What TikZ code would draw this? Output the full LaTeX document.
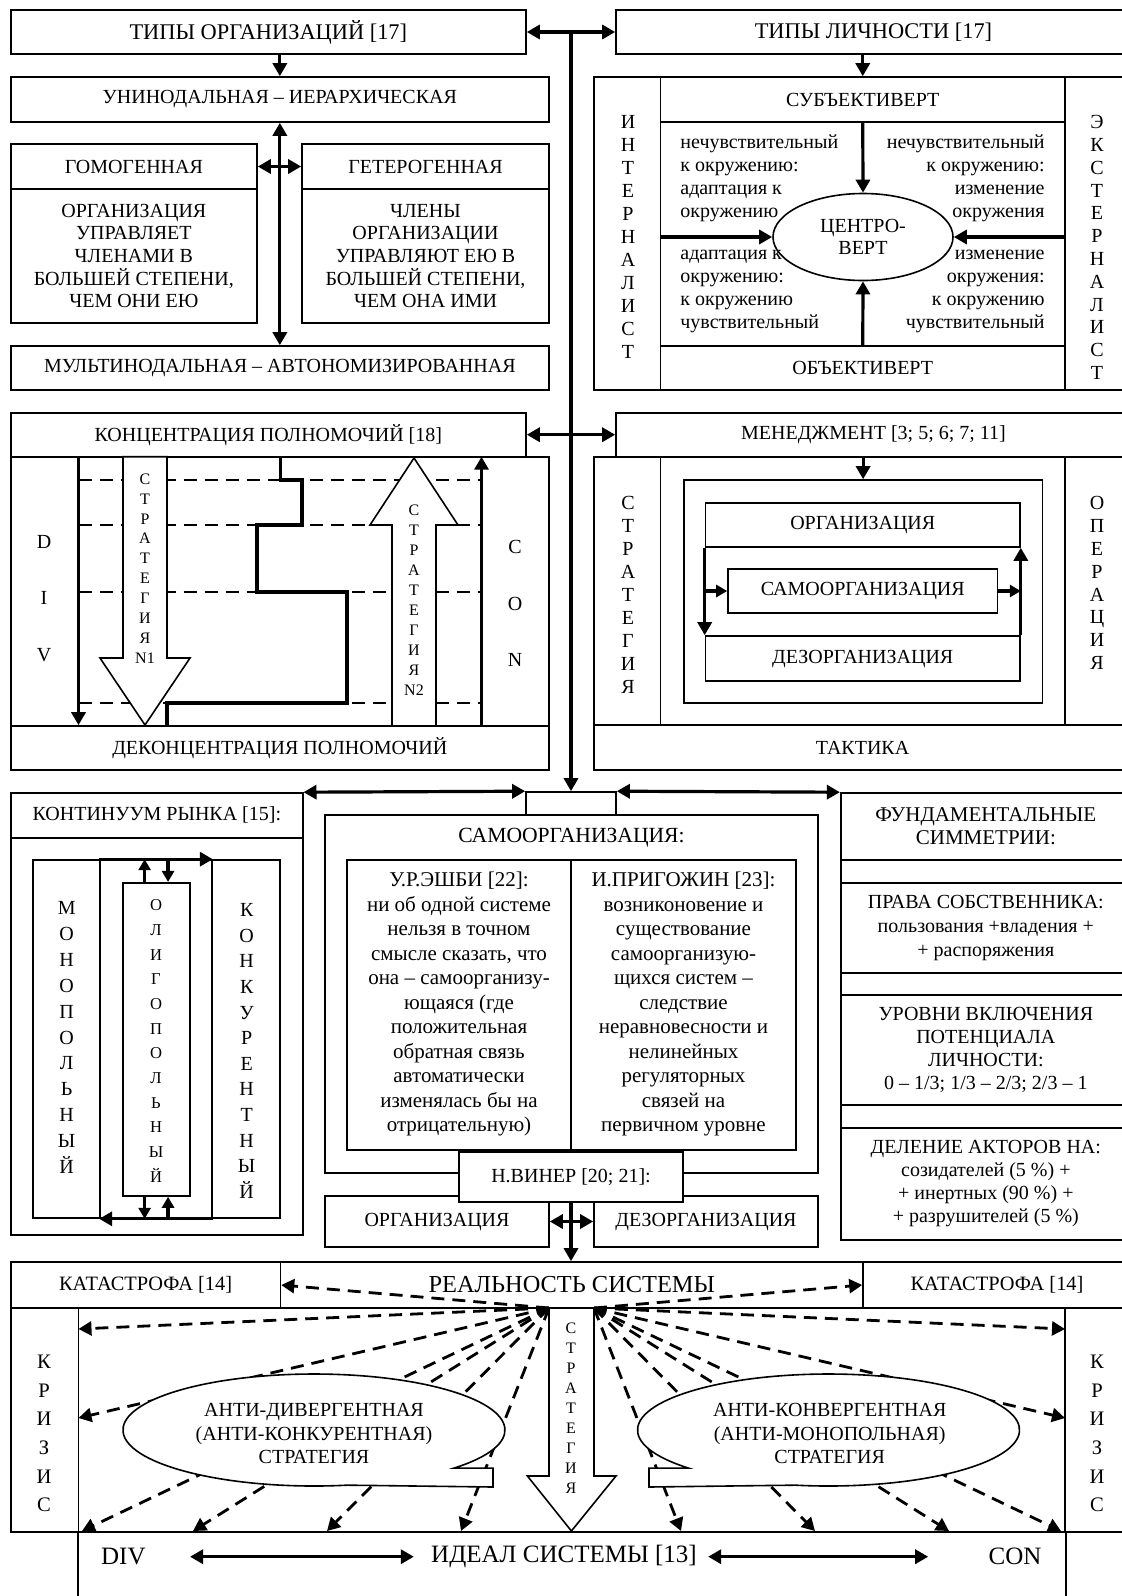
\documentclass[tikz,border=0pt]{standalone}
\usepackage{fontspec}
\setmainfont{Liberation Serif}
\usetikzlibrary{arrows.meta,calc,shapes.geometric}

\newcommand\fmain{\fontsize{10}{11.35}\selectfont}
\newcommand\fhead{\fontsize{11.2}{13}\selectfont}
\newcommand\fkat{\fontsize{10.2}{12}\selectfont}
\newcommand\fbig{\fontsize{12.2}{14}\selectfont}
\newcommand\fideal{\fontsize{12.5}{14}\selectfont}

\tikzset{
  hd/.tip={Triangle[length=6.5pt,width=7pt]},
  hs/.tip={Triangle[length=5.5pt,width=6pt]},
  bxs/.style={draw, line width=0.8pt, fill=white, inner sep=0pt, align=center, font=\fmain},
  txt/.style={inner sep=0pt, align=center, font=\fmain},
  stk/.style={inner sep=0pt, align=center},
  arr/.style={line width=1.6pt, -hd},
  sarr/.style={line width=1.6pt, -hs},
  dbl/.style={line width=1.6pt, hd-hd},
  dsh/.style={line width=1.4pt, dash pattern=on 6.5pt off 4pt},
  dar/.style={dsh, -hd},
  blk/.style={draw, fill=white, line width=0.8pt, line join=miter},
  cal/.style={draw, fill=white, line width=0.8pt},
  bord/.style={line width=0.8pt},
}

% box node given by its corners (x1,y1) (x2,y2)
\newcommand\boxat[7][]{%
  \pgfmathsetmacro\bxw{(#5-#3)*0.5}%
  \pgfmathsetmacro\bxh{(#6-#4)*0.5}%
  \node[bxs,minimum width=\bxw pt,minimum height=\bxh pt,#1] (#2) at ({(#3+#5)/2},{(#4+#6)/2}) {#7};}

\begin{document}
\begin{tikzpicture}[x=0.5pt,y=-0.5pt]
\useasboundingbox (0,0) rectangle (1122,1596);
\clip (0,0) rectangle (1122,1596);

% ---------- row 1, left: organisation types
\boxat[font=\fhead]{torg}{10.7}{10}{526}{54}{ТИПЫ ОРГАНИЗАЦИЙ [17]}
\boxat{uni}{10.7}{77}{549}{122}{УНИНОДАЛЬНАЯ – ИЕРАРХИЧЕСКАЯ}
\boxat{homh}{10.7}{144}{257}{189}{ГОМОГЕННАЯ}
\boxat{homb}{10.7}{189}{257}{323}{ОРГАНИЗАЦИЯ\\УПРАВЛЯЕТ\\ЧЛЕНАМИ В\\БОЛЬШЕЙ СТЕПЕНИ,\\ЧЕМ ОНИ ЕЮ}
\boxat{heth}{302}{144}{549}{189}{ГЕТЕРОГЕННАЯ}
\boxat{hetb}{302}{189}{549}{323}{ЧЛЕНЫ\\ОРГАНИЗАЦИИ\\УПРАВЛЯЮТ ЕЮ В\\БОЛЬШЕЙ СТЕПЕНИ,\\ЧЕМ ОНА ИМИ}
\boxat{multi}{10.7}{346}{549}{390}{МУЛЬТИНОДАЛЬНАЯ – АВТОНОМИЗИРОВАННАЯ}
\draw[arr] (torg.south -| uni.north) -- (uni.north);
\draw[dbl] (uni.south) -- (multi.north);
\draw[dbl] (homh.east) -- (heth.west);

% ---------- row 1, right: personality types
\boxat[font=\fhead]{tlic}{616}{10}{1131}{54}{ТИПЫ ЛИЧНОСТИ [17]}
\boxat{pers}{594}{77}{1131}{390}{}
\boxat{intc}{594}{77}{660.5}{390}{}
\boxat{extc}{1065}{77}{1131}{390}{}
\boxat{subj}{660.5}{77}{1065}{122}{СУБЪЕКТИВЕРТ}
\boxat{obj}{660.5}{346}{1065}{390}{ОБЪЕКТИВЕРТ}
\node[stk,font={\fontsize{10}{11.5}\selectfont}] (intl) at (628,237) {И\\Н\\Т\\Е\\Р\\Н\\А\\Л\\И\\С\\Т};
\node[stk,font={\fontsize{10}{11.4}\selectfont}] (extl) at (1097,247.5) {Э\\К\\С\\Т\\Е\\Р\\Н\\А\\Л\\И\\С\\Т};
\node[draw, ellipse, line width=0.8pt, minimum width=90pt, minimum height=43.5pt, inner sep=0pt, align=center, font=\fmain] (centr) at (863,237) {ЦЕНТРО-\\ВЕРТ};
\node[txt, anchor=west, align=left, font={\fontsize{10}{11.5}\selectfont}] (q1) at (680,178.5) {нечувствительный\\к окружению:\\адаптация к\\окружению};
\node[txt, anchor=east, align=right, font={\fontsize{10}{11.5}\selectfont}] (q2) at (1045,178.5) {нечувствительный\\к окружению:\\изменение\\окружения};
\node[txt, anchor=west, align=left, font={\fontsize{10}{11.5}\selectfont}] (q3) at (680,291.5) {адаптация к\\окружению:\\к окружению\\чувствительный};
\node[txt, anchor=east, align=right, font={\fontsize{10}{11.5}\selectfont}] (q4) at (1045,291.5) {изменение\\окружения:\\к окружению\\чувствительный};
\draw[arr] (tlic.south -| subj.north) -- (subj.north);
\draw[arr] (subj.south) -- (centr.north);
\draw[arr] (obj.north) -- (centr.south);
\draw[arr] (intc.east |- centr.west) -- (centr.west);
\draw[arr] (extc.west |- centr.east) -- (centr.east);

% ---------- row 2, left: concentration of powers
\boxat{konc}{10.7}{412.7}{526}{456.7}{КОНЦЕНТРАЦИЯ ПОЛНОМОЧИЙ [18]}
\boxat{cbody}{10.7}{456.7}{549}{726}{}
\boxat{dekonc}{10.7}{726}{549}{770}{ДЕКОНЦЕНТРАЦИЯ ПОЛНОМОЧИЙ}
\coordinate (divtop) at (78.5,456.7);
\coordinate (contop) at (481.5,456.7);
\foreach \yy in {480,525,592,703} \draw[dsh] (78.5,\yy) -- (481.5,\yy);
\draw[arr] (divtop) -- (divtop |- dekonc.north);
\draw[arr] (contop |- dekonc.north) -- (contop);
\draw[line width=1.7pt, line join=miter] (280.5,456.7) |- (302,480) |- (257,525) |- (347,592) |- (167,703) -- (167,726);
\draw[blk] (123,456.7) -- (123,658) -- (100,658) -- (145,725) -- (190,658) -- (167,658) -- (167,456.7) -- cycle;
\draw[blk] (392,726) -- (392,525) -- (370,525) -- (414,458) -- (458,525) -- (436,525) -- (436,726) -- cycle;
\node[stk,font={\fontsize{8}{9.95}\selectfont}] (n1l) at (145,568.5) {С\\Т\\Р\\А\\Т\\Е\\Г\\И\\Я\\N1};
\node[stk,font={\fontsize{8}{10}\selectfont}] (n2l) at (414,600) {С\\Т\\Р\\А\\Т\\Е\\Г\\И\\Я\\N2};
\node[stk,font={\fontsize{10}{28.25}\selectfont}] (divl) at (44,598.5) {D\\I\\V};
\node[stk,font={\fontsize{10}{28.25}\selectfont}] (conl) at (515,603.5) {C\\O\\N};

% ---------- row 2, right: management
\boxat{men}{616}{412.7}{1131}{456.7}{МЕНЕДЖМЕНТ [3; 5; 6; 7; 11]}
\boxat{mgo}{594}{456.7}{1131}{770}{}
\boxat{stc}{594}{456.7}{660.5}{725}{}
\boxat{opc}{1065}{456.7}{1131}{725}{}
\boxat{takt}{594}{725}{1131}{770}{ТАКТИКА}
\boxat{lvl}{683.7}{480}{1042.5}{703}{}
\boxat{orgm}{705.5}{503}{1020}{547}{ОРГАНИЗАЦИЯ}
\boxat{dezm}{705.5}{636}{1020}{681}{ДЕЗОРГАНИЗАЦИЯ}
\boxat{samm}{728}{569}{997.6}{613}{САМООРГАНИЗАЦИЯ}
\node[stk,font={\fontsize{10}{11.5}\selectfont}] (strl) at (628,595) {С\\Т\\Р\\А\\Т\\Е\\Г\\И\\Я};
\node[stk,font={\fontsize{10}{11.45}\selectfont}] (opl) at (1097,583) {О\\П\\Е\\Р\\А\\Ц\\И\\Я};
\draw[arr] (men.south -| lvl.north) -- (lvl.north);
\draw[arr] (orgm.south west) -- (dezm.north west);
\draw[arr] (dezm.north east) -- (orgm.south east);
\draw[sarr] (samm.west -| orgm.south west) -- (samm.west);
\draw[sarr] (samm.east) -- (samm.east -| orgm.south east);

% ---------- central spine
\boxat{cap}{526}{792}{616}{815}{}
\draw[dbl] (torg.east) -- (tlic.west);
\draw[dbl] (konc.east) -- (men.west);
\draw[arr] (torg.east -| cap.north) -- (cap.north);

% ---------- row 3, left: market continuum
\boxat{konth}{11}{793}{302.7}{837.7}{КОНТИНУУМ РЫНКА [15]:}
\boxat{kontb}{11}{837.7}{302.7}{1235}{}
\boxat{mono}{32.7}{860}{100}{1218}{}
\boxat{olo}{100}{860}{212}{1218}{}
\boxat{konk}{212}{860}{280}{1218}{}
\boxat{oli}{122.7}{882.7}{190}{1196}{}
\node[stk,font={\fontsize{10}{12.95}\selectfont}] (monl) at (66.7,1037.5) {М\\О\\Н\\О\\П\\О\\Л\\Ь\\Н\\Ы\\Й};
\node[stk,font={\fontsize{8.3}{12.35}\selectfont}] (olil) at (156,1041) {О\\Л\\И\\Г\\О\\П\\О\\Л\\Ь\\Н\\Ы\\Й};
\node[stk,font={\fontsize{10}{12.8}\selectfont}] (konl) at (246.7,1051) {К\\О\\Н\\К\\У\\Р\\Е\\Н\\Т\\Н\\Ы\\Й};
\draw[arr] (olo.north west) -- (olo.north east);
\draw[arr] (olo.south east) -- (olo.south west);
\coordinate (oa) at ($(oli.north west)!0.33!(oli.north east)$);
\coordinate (ob) at ($(oli.north west)!0.67!(oli.north east)$);
\coordinate (oc) at ($(oli.south west)!0.33!(oli.south east)$);
\coordinate (od) at ($(oli.south west)!0.67!(oli.south east)$);
\draw[sarr] (oa) -- (oa |- olo.north);
\draw[sarr] (ob |- olo.north) -- (ob);
\draw[sarr] (oc) -- (oc |- olo.south);
\draw[sarr] (od |- olo.south) -- (od);

% ---------- row 3, centre: self-organisation
\boxat{samc}{325}{815}{818}{1173}{}
\node[txt,font={\fontsize{10.8}{13}\selectfont}] (samt) at (571.5,838) {САМООРГАНИЗАЦИЯ:};
\boxat{ash}{347}{860}{571}{1150}{}
\boxat{pri}{571}{860}{796}{1150}{}
\node[txt,font={\fontsize{10.5}{12.25}\selectfont}] (asht) at (459,1004.2) {У.Р.ЭШБИ [22]:\\ни об одной системе\\нельзя в точном\\смысле сказать, что\\она – самоорганизу-\\ющаяся (где\\положительная\\обратная связь\\автоматически\\изменялась бы на\\отрицательную)};
\node[txt,font={\fontsize{10.5}{12.25}\selectfont}] (prit) at (683.5,1004.2) {И.ПРИГОЖИН [23]:\\возниконовение и\\существование\\самоорганизую-\\щихся систем –\\следствие\\неравновесности и\\нелинейных\\регуляторных\\связей на\\первичном уровне};
\boxat{orgb}{325}{1196}{549}{1247}{ОРГАНИЗАЦИЯ}
\boxat{dezb}{594}{1196}{818}{1247}{ДЕЗОРГАНИЗАЦИЯ}
\boxat{viner}{459}{1152}{683}{1202}{Н.ВИНЕР [20; 21]:}
\draw[dbl] (orgb.east) -- (dezb.west);

% ---------- row 3, right: fundamental symmetries
\boxat{fund}{840.7}{793}{1131}{1240}{}
\boxat[font={\fontsize{10.5}{11.7}\selectfont}]{fundh}{840.7}{793}{1131}{860}{ФУНДАМЕНТАЛЬНЫЕ\\СИММЕТРИИ:}
\boxat[font={\fontsize{10}{12}\selectfont}]{prava}{840.7}{882.7}{1131}{972.7}{ПРАВА СОБСТВЕННИКА:\\пользования +владения +\\+ распоряжения}
\boxat[font={\fontsize{10}{11.6}\selectfont}]{urov}{840.7}{995}{1131}{1105}{УРОВНИ ВКЛЮЧЕНИЯ\\ПОТЕНЦИАЛА\\ЛИЧНОСТИ:\\0 – 1/3; 1/3 – 2/3; 2/3 – 1}
\boxat[font={\fontsize{10}{11.5}\selectfont}]{delen}{840.7}{1128}{1131}{1240}{ДЕЛЕНИЕ АКТОРОВ НА:\\созидателей (5~\%) +\\+ инертных (90~\%) +\\+ разрушителей (5~\%)}

\draw[dbl] (konth.north east) -- (cap.north west);
\draw[dbl] (cap.north east) -- (fundh.north west);

% ---------- row 4: reality of the system
\boxat[font=\fkat]{katL}{10.7}{1262}{280.5}{1308}{КАТАСТРОФА [14]}
\boxat[font=\fbig]{real}{280.5}{1262}{863}{1308}{РЕАЛЬНОСТЬ СИСТЕМЫ}
\boxat[font=\fkat]{katR}{863}{1262}{1131}{1308}{КАТАСТРОФА [14]}
\draw[arr] (viner.south) -- (viner.south |- real.north);
\boxat{krizL}{10.7}{1308}{78.5}{1532}{}
\boxat{midb}{78.5}{1308}{1065}{1532}{}
\boxat{krizR}{1065}{1308}{1131}{1532}{}
\draw[bord] (midb.south west) -- ++(0,80);
\draw[bord] (midb.south east) -- ++(0,80);
\node[stk,font={\fontsize{10.3}{14.33}\selectfont}] (krl) at (44,1433.4) {К\\Р\\И\\З\\И\\С};
\node[stk,font={\fontsize{10.3}{14.33}\selectfont}] (krr) at (1097,1433.4) {К\\Р\\И\\З\\И\\С};

% strategy block arrow
\draw[blk] (549,1308) -- (549,1476) -- (527.4,1476) -- (571.4,1531) -- (616,1476) -- (594,1476) -- (594,1308) -- cycle;
\node[stk,font={\fontsize{8}{10}\selectfont}] (sbl) at (571,1408) {С\\Т\\Р\\А\\Т\\Е\\Г\\И\\Я};

% fan of dashed arrows
\coordinate (fl) at (549,1308);
\coordinate (fr) at (594,1308);
\coordinate (l2) at (78.5,1329);
\coordinate (l3) at (78.5,1418);
\coordinate (l4) at (82,1531);
\coordinate (l5) at (193,1531);
\coordinate (l6) at (327,1531);
\coordinate (l7) at (461,1531);
\coordinate (r2) at (1065,1329);
\coordinate (r3) at (1065,1418);
\coordinate (r4) at (1061,1531);
\coordinate (r5) at (949,1531);
\coordinate (r6) at (815,1531);
\coordinate (r7) at (681,1531);
\draw[dar] (fl) -- (katL.east);
\draw[dar] (fr) -- (katR.west);
\foreach \t in {l2,l3,l4,l5,l6,l7} \draw[dar] (fl) -- (\t);
\foreach \t in {r2,r3,r4,r5,r6,r7} \draw[dar] (fr) -- (\t);

% callout ellipses
\draw[cal] (454.1,1468.05) arc[start angle=42.8, end angle=-280, x radius=191, y radius=56] -- (493,1487) -- (493,1468.05) -- cycle;
\draw[cal] (688.4,1468.05) arc[start angle=137.2, end angle=460, x radius=191, y radius=56] -- (649,1487) -- (649,1468.05) -- cycle;
\node[txt,font={\fontsize{10}{11.7}\selectfont}] (adiv) at (314,1433.5) {АНТИ-ДИВЕРГЕНТНАЯ\\(АНТИ-КОНКУРЕНТНАЯ)\\СТРАТЕГИЯ};
\node[txt,font={\fontsize{10}{11.7}\selectfont}] (acon) at (829.7,1433.5) {АНТИ-КОНВЕРГЕНТНАЯ\\(АНТИ-МОНОПОЛЬНАЯ)\\СТРАТЕГИЯ};

% ideal of the system
\node[inner sep=0pt,font=\fideal] (divb) at (123.4,1556.7) {DIV};
\node[inner sep=0pt,font=\fideal] (ideal) at (564,1556.7) {ИДЕАЛ СИСТЕМЫ [13]};
\node[inner sep=0pt,font=\fideal] (conb) at (1015,1556.7) {CON};
\draw[dbl, shorten <=22pt, shorten >=8.5pt] (divb.east) -- (ideal.west);
\draw[dbl, shorten <=5.5pt, shorten >=30pt] (ideal.east) -- (conb.west);
\end{tikzpicture}
\end{document}
